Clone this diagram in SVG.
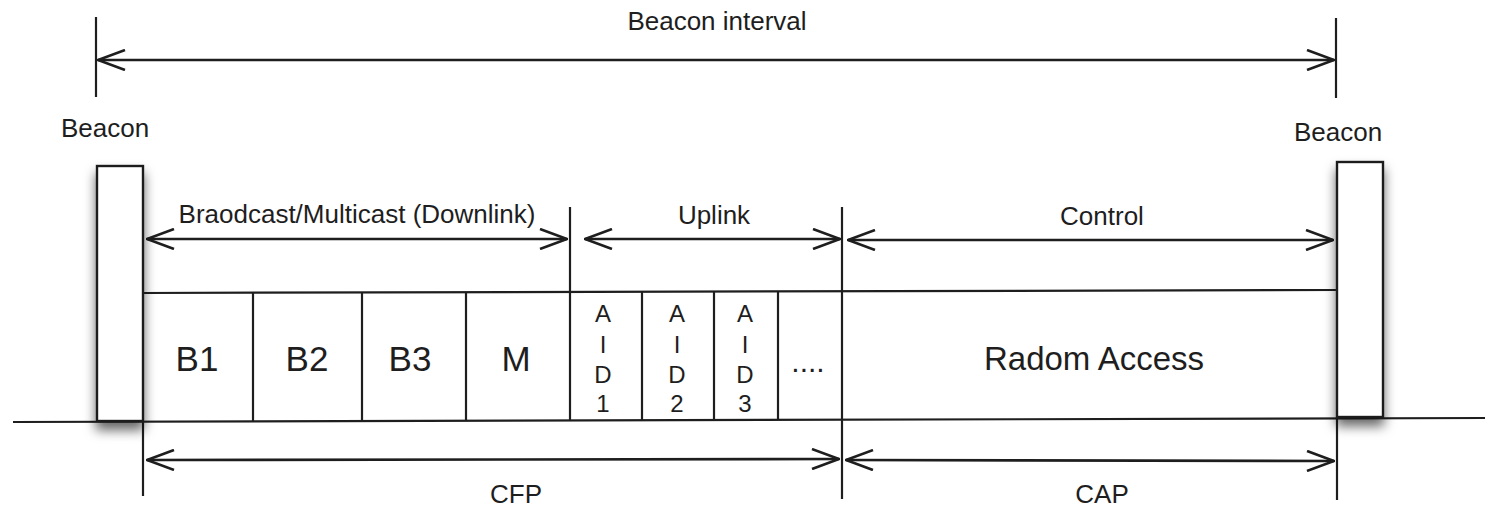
<svg xmlns="http://www.w3.org/2000/svg" width="1485" height="511" viewBox="0 0 1485 511">
<style>
.ln{stroke:#1e1e1e;stroke-width:2.2;fill:none}
.ar{stroke:#1e1e1e;stroke-width:2.6;fill:none;marker-start:url(#ah);marker-end:url(#ah)}
.t{font-family:"Liberation Sans",Arial,sans-serif;fill:#1e1e1e;text-anchor:middle}
.s{font-size:26px}
.b{font-size:35px}
.a{font-size:24px}
.bk{fill:#fff;stroke:#1e1e1e;stroke-width:2.4}
</style>
<defs>
<marker id="ah" viewBox="0 0 30 22" refX="29" refY="11" markerWidth="30" markerHeight="22" markerUnits="userSpaceOnUse" orient="auto-start-reverse">
<path d="M2,1 L29,11 L2,21" fill="none" stroke="#1e1e1e" stroke-width="2.6"/>
</marker>
<filter id="sh" x="-60%" y="-20%" width="220%" height="140%">
<feDropShadow dx="0" dy="8" stdDeviation="6" flood-color="#000" flood-opacity="0.6"/>
</filter>
</defs>

<g id="connectors">
<line class="ln" x1="96" y1="17" x2="96" y2="97"/>
<line class="ln" x1="1336" y1="18" x2="1336" y2="98"/>
<line class="ar" x1="98" y1="60" x2="1334" y2="60"/>
<line class="ar" x1="147" y1="239" x2="567" y2="239"/>
<line class="ar" x1="585" y1="239" x2="840" y2="239"/>
<line class="ar" x1="848" y1="240" x2="1333" y2="240"/>
<line class="ar" x1="147" y1="460" x2="839" y2="459"/>
<line class="ar" x1="846" y1="460" x2="1334" y2="461"/>
</g>

<g id="frame">
<line class="ln" x1="143" y1="293" x2="1337" y2="290"/>
<line class="ln" x1="13" y1="422" x2="1485" y2="418"/>
<line class="ln" x1="253" y1="293" x2="253" y2="421"/>
<line class="ln" x1="362" y1="293" x2="362" y2="421"/>
<line class="ln" x1="466" y1="293" x2="466" y2="421"/>
<line class="ln" x1="570" y1="207" x2="570" y2="421"/>
<line class="ln" x1="642" y1="292" x2="642" y2="420"/>
<line class="ln" x1="714" y1="292" x2="714" y2="420"/>
<line class="ln" x1="778" y1="292" x2="778" y2="420"/>
<line class="ln" x1="842" y1="207" x2="842" y2="499"/>
<line class="ln" x1="143" y1="421" x2="143" y2="496"/>
<line class="ln" x1="1337" y1="417" x2="1337" y2="500"/>
</g>

<g id="beacon-left">
<rect class="bk" x="97" y="166" width="46" height="255" filter="url(#sh)"/>
<text class="t s" x="105" y="137">Beacon</text>
</g>
<g id="beacon-right">
<rect class="bk" x="1337" y="162" width="46" height="255" filter="url(#sh)"/>
<text class="t s" x="1338" y="141">Beacon</text>
</g>

<g id="labels">
<text class="t s" x="717" y="30">Beacon interval</text>
<text class="t s" x="357" y="223">Braodcast/Multicast (Downlink)</text>
<text class="t s" x="714" y="224">Uplink</text>
<text class="t s" x="1102" y="225">Control</text>
<text class="t s" x="516" y="503">CFP</text>
<text class="t s" x="1102" y="503">CAP</text>
</g>

<g id="slot-B1"><text class="t b" x="197" y="371">B1</text></g>
<g id="slot-B2"><text class="t b" x="307" y="371">B2</text></g>
<g id="slot-B3"><text class="t b" x="410" y="371">B3</text></g>
<g id="slot-M"><text class="t b" x="516" y="371">M</text></g>
<g id="slot-AID1">
<text class="t a" x="603" y="322">A</text><text class="t a" x="603" y="353">I</text><text class="t a" x="603" y="383">D</text><text class="t a" x="603" y="412">1</text>
</g>
<g id="slot-AID2">
<text class="t a" x="677" y="322">A</text><text class="t a" x="677" y="353">I</text><text class="t a" x="677" y="383">D</text><text class="t a" x="677" y="412">2</text>
</g>
<g id="slot-AID3">
<text class="t a" x="745" y="322">A</text><text class="t a" x="745" y="353">I</text><text class="t a" x="745" y="383">D</text><text class="t a" x="745" y="412">3</text>
</g>
<g id="slot-more"><text class="t" style="font-size:30px" x="808" y="372">....</text></g>
<g id="random-access"><text class="t" style="font-size:33px" x="1094" y="370">Radom Access</text></g>
</svg>
